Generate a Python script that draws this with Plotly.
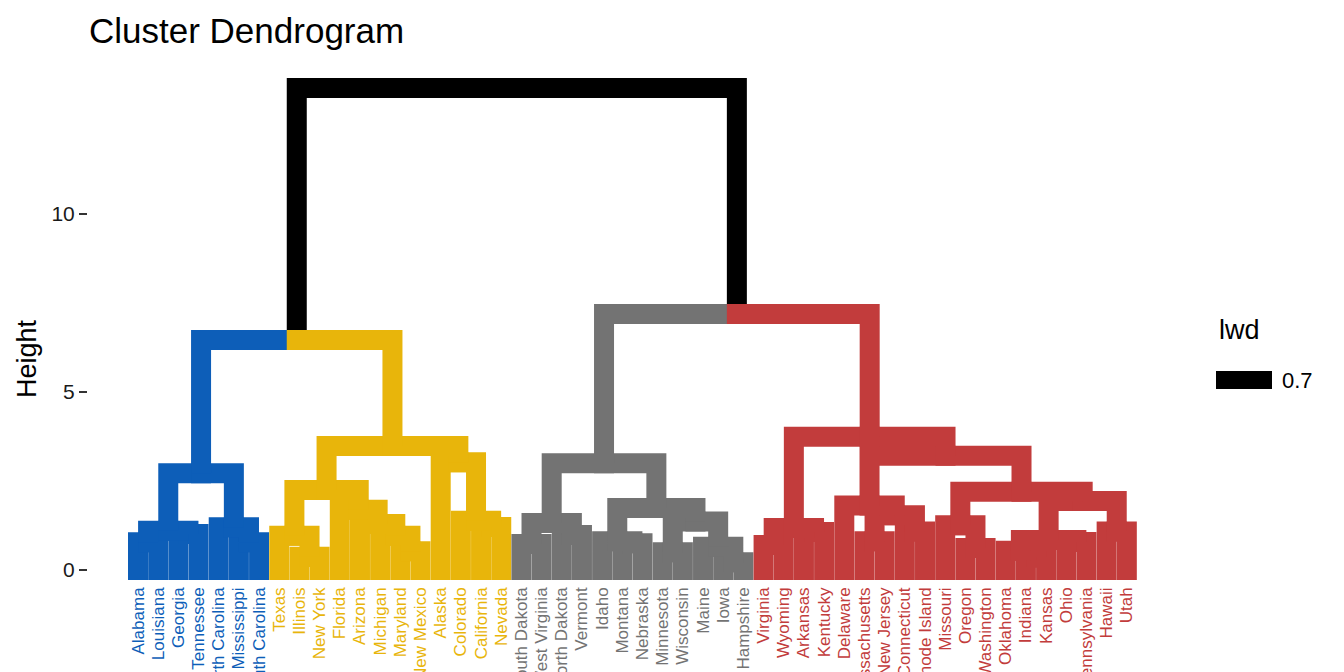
import plotly.graph_objects as go

# ---------------- data ----------------
labels = ["Alabama", "Louisiana", "Georgia", "Tennessee", "North Carolina", "Mississippi",
          "South Carolina", "Texas", "Illinois", "New York", "Florida", "Arizona", "Michigan",
          "Maryland", "New Mexico", "Alaska", "Colorado", "California", "Nevada",
          "South Dakota", "West Virginia", "North Dakota", "Vermont", "Idaho", "Montana",
          "Nebraska", "Minnesota", "Wisconsin", "Maine", "Iowa", "New Hampshire",
          "Virginia", "Wyoming", "Arkansas", "Kentucky", "Delaware", "Massachusetts",
          "New Jersey", "Connecticut", "Rhode Island", "Missouri", "Oregon", "Washington",
          "Oklahoma", "Indiana", "Kansas", "Ohio", "Pennsylvania", "Hawaii", "Utah"]
leaf_groups = [1] * 7 + [2] * 12 + [3] * 12 + [4] * 19
group_colors = {1: "#0D5EB8", 2: "#E8B50B", 3: "#737373", 4: "#C23C3C"}

# merges (negative = leaf number in display order, positive = earlier merge row)
merge_a = [-1, -3, 1, -6, -5, 3,
           -9, -8, -14, -13, -12, -11, 8, -18, -17, -16, 13, 6,
           -20, -22, 19, -25, -24, -27, -30, -29, 24, 23, 21,
           -32, -34, 30, -37, -39, 33, -36, -42, -41, -45, -44, -47, 40, -49, 42, 38, 36, 32,
           29, 18]
merge_b = [-2, -4, 2, -7, 4, 5,
           -10, 7, -15, 9, 10, 11, 12, -19, 14, 15, 16, 17,
           -21, -23, 20, -26, 22, -28, -31, 25, 26, 27, 28,
           -33, -35, 31, -38, -40, 34, 35, -43, 37, -46, 39, -48, 41, -50, 43, 44, 45, 46,
           47, 48]
merge_h = [0.78, 1.01, 1.10, 0.78, 1.20, 2.72,
           0.37, 0.96, 0.53, 0.96, 1.29, 1.69, 2.25, 1.21, 1.38, 3.03, 3.48, 6.46,
           0.73, 0.98, 1.32, 0.75, 0.81, 0.50, 0.22, 0.65, 1.36, 1.74, 3.00,
           0.70, 1.07, 1.18, 0.81, 1.08, 1.54, 1.81, 0.62, 1.26, 0.35, 0.54, 0.79, 0.84, 1.08,
           1.94, 2.20, 3.21, 3.74,
           7.19, 13.54]

y_ticks = [0, 5, 10]

# ---------------- layout constants ----------------
W, H = 1344, 672
PL, PR, PT, PB = 88, 1170, 60, 583
LEAF_PX0, LEAF_STEP = 138.0, 20.18
Y0_PX, PX_PER_H = 570.0, 35.6
LW = 20
FONT = "Liberation Sans, Arial, Helvetica, sans-serif"

xr = [1 - (LEAF_PX0 - PL) / LEAF_STEP, 1 + (PR - LEAF_PX0) / LEAF_STEP]
yr = [-(PB - Y0_PX) / PX_PER_H, (Y0_PX - PT) / PX_PER_H]
ex = (LW / 2) / LEAF_STEP
ey = (LW / 2) / PX_PER_H

# ---------------- tree geometry ----------------
def node_key(v):
    return ("L", -v) if v < 0 else ("M", v)

info = {}
for i in range(1, len(labels) + 1):
    info[("L", i)] = {"x": float(i), "h": 0.0, "g": leaf_groups[i - 1], "leaf": True}
parent = {}
for k, (a, b, h) in enumerate(zip(merge_a, merge_b, merge_h), start=1):
    ka, kb = node_key(a), node_key(b)
    ga, gb = info[ka]["g"], info[kb]["g"]
    info[("M", k)] = {"x": (info[ka]["x"] + info[kb]["x"]) / 2, "h": h,
                      "g": ga if ga == gb else None, "leaf": False}
    parent[ka] = ("M", k)
    parent[kb] = ("M", k)

paths = {None: ([], []), 1: ([], []), 2: ([], []), 3: ([], []), 4: ([], [])}
for c, p in parent.items():
    ci, pi = info[c], info[p]
    y_start = -ey if ci["leaf"] else ci["h"]
    x_end = pi["x"] + ex if ci["x"] < pi["x"] else pi["x"] - ex
    xs, ys = paths[ci["g"]]
    xs += [ci["x"], ci["x"], x_end, None]
    ys += [y_start, pi["h"], pi["h"], None]

fig = go.Figure()
for g in [None, 1, 2, 3, 4]:
    xs, ys = paths[g]
    fig.add_trace(go.Scatter(x=xs, y=ys, mode="lines",
                             line=dict(color="#000000" if g is None else group_colors[g], width=LW),
                             hoverinfo="skip", showlegend=False))

ticktext = ['<span style="color:%s">%s</span>' % (group_colors[g], lab)
            for lab, g in zip(labels, leaf_groups)]

fig.update_layout(
    width=W, height=H,
    margin=dict(l=PL, r=W - PR, t=PT, b=H - PB, autoexpand=False),
    paper_bgcolor="white", plot_bgcolor="white",
    font=dict(family=FONT, color="#000000"),
    title=dict(text="Cluster Dendrogram", x=89 / W, xref="container", xanchor="left",
               y=1 - 31 / H, yref="container", yanchor="middle",
               font=dict(size=35, family=FONT, color="#000000")),
    xaxis=dict(range=xr, tickmode="array", tickvals=list(range(1, len(labels) + 1)),
               ticktext=ticktext, tickangle=-90, tickfont=dict(size=17, family=FONT),
               showgrid=False, zeroline=False, showline=False, ticks="", automargin=False),
    yaxis=dict(range=yr, tickmode="array", tickvals=y_ticks, ticktext=[str(v) for v in y_ticks],
               tickfont=dict(size=21, family=FONT, color="#1a1a1a"),
               ticks="outside", ticklen=8, tickwidth=2, tickcolor="#333333",
               showgrid=False, zeroline=False, showline=False, automargin=False),
    showlegend=False,
)

pw, ph = PR - PL, PB - PT
fig.add_annotation(text="Height", textangle=-90, showarrow=False,
                   xref="paper", yref="paper", x=(27 - PL) / pw, y=(PB - 359) / ph,
                   xanchor="center", yanchor="middle", font=dict(size=27, family=FONT))
# legend replica
fig.add_annotation(text="lwd", showarrow=False, xref="paper", yref="paper",
                   x=(1217 - PL) / pw, y=(PB - 330) / ph, xanchor="left", yanchor="middle",
                   font=dict(size=27, family=FONT))
fig.add_annotation(text="0.7", showarrow=False, xref="paper", yref="paper",
                   x=(1280 - PL) / pw, y=(PB - 380) / ph, xanchor="left", yanchor="middle",
                   font=dict(size=22, family=FONT))
fig.add_shape(type="rect", xref="paper", yref="paper",
              x0=(1216 - PL) / pw, x1=(1272 - PL) / pw,
              y0=(PB - 389) / ph, y1=(PB - 371) / ph,
              fillcolor="#000000", line=dict(width=0))

fig.write_html("out.html")
